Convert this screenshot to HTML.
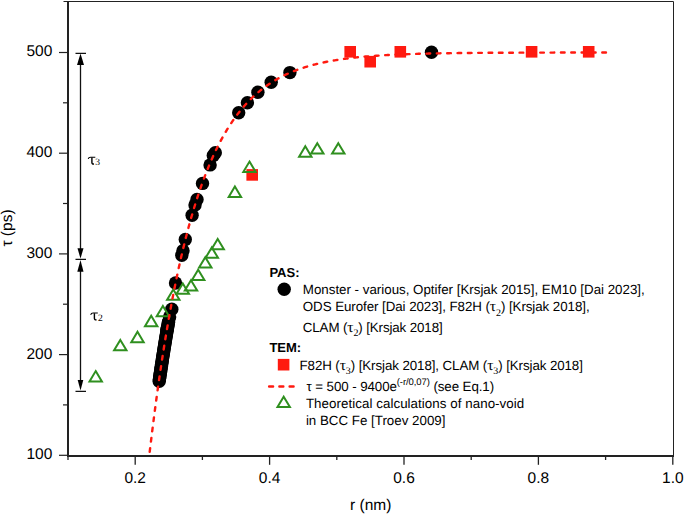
<!DOCTYPE html>
<html><head><meta charset="utf-8"><style>
html,body{margin:0;padding:0;background:#fff;width:685px;height:515px;overflow:hidden}
svg{display:block} text{text-rendering:geometricPrecision}
</style></head><body>
<svg width="685" height="515" viewBox="0 0 685 515">
<rect width="685" height="515" fill="#fff"/>
<g stroke="#222" fill="none">
<path d="M63.5,1.5 H673.5 V456" stroke-width="1"/>
<path d="M68,1 V456" stroke-width="2"/>
<path d="M67,456 H674" stroke-width="2"/>
<path d="M59,455.3 H68" stroke-width="1.2"/>
<path d="M63,404.9 H68" stroke-width="1.2"/>
<path d="M59,354.6 H68" stroke-width="1.2"/>
<path d="M63,304.2 H68" stroke-width="1.2"/>
<path d="M59,253.9 H68" stroke-width="1.2"/>
<path d="M63,203.5 H68" stroke-width="1.2"/>
<path d="M59,153.2 H68" stroke-width="1.2"/>
<path d="M63,102.8 H68" stroke-width="1.2"/>
<path d="M59,52.5 H68" stroke-width="1.2"/>
<path d="M68.0,456 V460" stroke-width="1.3"/>
<path d="M135.2,456 V464.8" stroke-width="1.3"/>
<path d="M202.4,456 V460" stroke-width="1.3"/>
<path d="M269.6,456 V464.8" stroke-width="1.3"/>
<path d="M336.8,456 V460" stroke-width="1.3"/>
<path d="M404.0,456 V464.8" stroke-width="1.3"/>
<path d="M471.2,456 V460" stroke-width="1.3"/>
<path d="M538.4,456 V464.8" stroke-width="1.3"/>
<path d="M605.6,456 V460" stroke-width="1.3"/>
<path d="M672.8,456 V464.8" stroke-width="1.3"/>
</g>
<g font-family="Liberation Sans, sans-serif" font-size="15.5" fill="#000">
<text x="52.3" y="459.2" text-anchor="end">100</text>
<text x="52.3" y="358.5" text-anchor="end">200</text>
<text x="52.3" y="257.8" text-anchor="end">300</text>
<text x="52.3" y="157.1" text-anchor="end">400</text>
<text x="52.3" y="56.4" text-anchor="end">500</text>
<text x="135.2" y="482.8" text-anchor="middle">0.2</text>
<text x="269.6" y="482.8" text-anchor="middle">0.4</text>
<text x="404.0" y="482.8" text-anchor="middle">0.6</text>
<text x="538.4" y="482.8" text-anchor="middle">0.8</text>
<text x="672.8" y="482.8" text-anchor="middle">1.0</text>
<text x="370.7" y="509.6" text-anchor="middle">r (nm)</text>
<text transform="translate(12.4,228) rotate(-90)" text-anchor="middle">τ (ps)</text>
</g>
<g stroke="#111" fill="none" stroke-width="1.3">
<path d="M75.5,53.3 H86 M75.5,259.3 H86 M75.5,391.3 H86"/>
<path d="M80.5,60 V252 M80.5,266 V385"/>
</g>
<g fill="#000">
<path d="M80.5,53.5 L84,65 L77,65 Z"/>
<path d="M80.5,258.6 L83.5,248.3 L77.5,248.3 Z"/>
<path d="M80.5,260 L83.5,271.7 L77.3,271.7 Z"/>
<path d="M80.5,390.6 L83.3,380 L77.7,380 Z"/>
</g>
<g transform="translate(0,0)" fill="none" stroke="#000"><path d="M88.2,159 Q88.6,157.2 90.6,157.2 H95.3" stroke-width="1.1"/><path d="M91.9,157.4 V162.6 Q92.1,164.4 94,164" stroke-width="1.4"/></g>
<g transform="translate(2.5,155.8)" fill="none" stroke="#000"><path d="M88.2,159 Q88.6,157.2 90.6,157.2 H95.3" stroke-width="1.1"/><path d="M91.9,157.4 V162.6 Q92.1,164.4 94,164" stroke-width="1.4"/></g>
<g font-family="Liberation Serif, serif" fill="#000">
<text x="95.3" y="164.6" font-size="9.6">3</text>
<text x="97.9" y="320.5" font-size="9.6">2</text>
</g>
<g fill="#000">
<circle cx="431.5" cy="52.2" r="6.7"/>
<circle cx="289.9" cy="72.6" r="6.7"/>
<circle cx="271.2" cy="82.2" r="6.7"/>
<circle cx="257.9" cy="92.3" r="6.7"/>
<circle cx="247.4" cy="102.8" r="6.7"/>
<circle cx="238.7" cy="112.8" r="6.7"/>
<circle cx="215.3" cy="152.7" r="6.7"/>
<circle cx="213.3" cy="155.4" r="6.7"/>
<circle cx="210.1" cy="164.9" r="6.7"/>
<circle cx="202.5" cy="183.4" r="6.7"/>
<circle cx="197.0" cy="199.5" r="6.7"/>
<circle cx="195.0" cy="205.0" r="6.7"/>
<circle cx="192.1" cy="215.2" r="6.7"/>
<circle cx="185.3" cy="239.5" r="6.7"/>
<circle cx="183.0" cy="250.7" r="6.7"/>
<circle cx="181.8" cy="255.3" r="6.7"/>
<circle cx="175.5" cy="283.0" r="6.7"/>
<circle cx="171.8" cy="309.3" r="6.7"/>
<circle cx="169.6" cy="317.0" r="6.7"/>
<circle cx="168.6" cy="321.8" r="6.7"/>
<circle cx="167.0" cy="329.3" r="6.7"/>
<circle cx="168.4" cy="322.4" r="6.7"/>
<circle cx="168.2" cy="323.9" r="6.7"/>
<circle cx="167.9" cy="325.4" r="6.7"/>
<circle cx="167.7" cy="326.9" r="6.7"/>
<circle cx="167.4" cy="328.4" r="6.7"/>
<circle cx="167.1" cy="329.9" r="6.7"/>
<circle cx="166.9" cy="331.4" r="6.7"/>
<circle cx="166.6" cy="332.9" r="6.7"/>
<circle cx="166.4" cy="334.5" r="6.7"/>
<circle cx="166.1" cy="336.0" r="6.7"/>
<circle cx="165.9" cy="337.5" r="6.7"/>
<circle cx="165.6" cy="339.0" r="6.7"/>
<circle cx="165.4" cy="340.5" r="6.7"/>
<circle cx="165.1" cy="342.0" r="6.7"/>
<circle cx="164.9" cy="343.5" r="6.7"/>
<circle cx="164.7" cy="345.0" r="6.7"/>
<circle cx="164.4" cy="346.5" r="6.7"/>
<circle cx="164.2" cy="348.1" r="6.7"/>
<circle cx="163.9" cy="349.6" r="6.7"/>
<circle cx="163.7" cy="351.1" r="6.7"/>
<circle cx="163.5" cy="352.6" r="6.7"/>
<circle cx="163.2" cy="354.1" r="6.7"/>
<circle cx="163.0" cy="355.6" r="6.7"/>
<circle cx="162.7" cy="357.1" r="6.7"/>
<circle cx="162.5" cy="358.6" r="6.7"/>
<circle cx="162.3" cy="360.1" r="6.7"/>
<circle cx="162.1" cy="361.6" r="6.7"/>
<circle cx="161.8" cy="363.2" r="6.7"/>
<circle cx="161.6" cy="364.7" r="6.7"/>
<circle cx="161.4" cy="366.2" r="6.7"/>
<circle cx="161.1" cy="367.7" r="6.7"/>
<circle cx="160.9" cy="369.2" r="6.7"/>
<circle cx="160.7" cy="370.7" r="6.7"/>
<circle cx="160.5" cy="372.2" r="6.7"/>
<circle cx="160.2" cy="373.7" r="6.7"/>
<circle cx="160.0" cy="375.2" r="6.7"/>
<circle cx="159.8" cy="376.8" r="6.7"/>
<circle cx="159.6" cy="378.3" r="6.7"/>
<circle cx="159.4" cy="379.8" r="6.7"/>
<circle cx="159.2" cy="381.3" r="6.7"/>
</g>
<g fill="#ff1a10">
<rect x="344.4" y="46.0" width="11.6" height="11.6"/>
<rect x="364.4" y="55.9" width="11.6" height="11.6"/>
<rect x="394.5" y="46.0" width="11.6" height="11.6"/>
<rect x="525.8" y="46.0" width="11.6" height="11.6"/>
<rect x="582.9" y="46.0" width="11.6" height="11.6"/>
<rect x="246.4" y="169.1" width="11.6" height="11.6"/>
</g>
<g fill="none" stroke="#2f8f1f" stroke-width="2">
<path d="M95.7,371.1 L101.9,381.5 L89.5,381.5 Z"/>
<path d="M120.3,339.9 L126.5,350.3 L114.1,350.3 Z"/>
<path d="M137.5,331.8 L143.7,342.2 L131.3,342.2 Z"/>
<path d="M151.2,315.8 L157.4,326.2 L145.0,326.2 Z"/>
<path d="M162.9,305.9 L169.1,316.3 L156.7,316.3 Z"/>
<path d="M173.3,289.4 L179.5,299.8 L167.1,299.8 Z"/>
<path d="M182.8,283.4 L189.0,293.8 L176.6,293.8 Z"/>
<path d="M191.0,280.2 L197.2,290.6 L184.8,290.6 Z"/>
<path d="M198.2,269.7 L204.4,280.1 L192.0,280.1 Z"/>
<path d="M205.3,257.2 L211.5,267.6 L199.1,267.6 Z"/>
<path d="M211.8,247.4 L218.0,257.8 L205.6,257.8 Z"/>
<path d="M217.7,238.9 L223.9,249.3 L211.5,249.3 Z"/>
<path d="M234.9,186.5 L241.1,196.9 L228.7,196.9 Z"/>
<path d="M249.5,161.6 L255.7,172.0 L243.3,172.0 Z"/>
<path d="M305.3,146.3 L311.5,156.7 L299.1,156.7 Z"/>
<path d="M317.3,143.2 L323.5,153.6 L311.1,153.6 Z"/>
<path d="M338.3,143.2 L344.5,153.6 L332.1,153.6 Z"/>
</g>
<path d="M149.56,453.08 L150.71,443.46 L151.85,434.08 L153.00,424.91 L154.14,415.97 L155.28,407.24 L156.43,398.72 L157.57,390.41 L158.71,382.29 L159.86,374.37 L161.00,366.64 L162.14,359.10 L163.29,351.73 L164.43,344.55 L165.57,337.54 L166.72,330.69 L167.86,324.01 L169.00,317.49 L170.15,311.13 L171.29,304.91 L172.43,298.85 L173.58,292.94 L174.72,287.16 L175.86,281.53 L177.01,276.03 L178.15,270.66 L179.29,265.42 L180.44,260.31 L181.58,255.32 L182.72,250.45 L183.87,245.69 L185.01,241.05 L186.16,236.52 L187.30,232.11 L188.44,227.79 L189.59,223.58 L190.73,219.47 L191.87,215.46 L193.02,211.55 L194.16,207.73 L195.30,204.00 L196.45,200.36 L197.59,196.81 L198.73,193.35 L199.88,189.97 L201.02,186.66 L202.16,183.44 L203.31,180.30 L204.45,177.23 L205.59,174.23 L206.74,171.31 L207.88,168.46 L209.02,165.67 L210.17,162.95 L211.31,160.30 L212.45,157.71 L213.60,155.19 L214.74,152.72 L215.88,150.31 L217.03,147.96 L218.17,145.67 L219.32,143.43 L220.46,141.25 L221.60,139.12 L222.75,137.04 L223.89,135.01 L225.03,133.03 L226.18,131.09 L227.32,129.21 L228.46,127.36 L229.61,125.57 L230.75,123.81 L231.89,122.10 L233.04,120.43 L234.18,118.80 L235.32,117.20 L236.47,115.65 L237.61,114.13 L238.75,112.65 L239.90,111.21 L241.04,109.80 L242.18,108.42 L243.33,107.08 L244.47,105.77 L245.61,104.49 L246.76,103.24 L247.90,102.02 L249.04,100.83 L250.19,99.67 L251.33,98.54 L252.48,97.43 L253.62,96.36 L254.76,95.30 L255.91,94.27 L257.05,93.27 L258.19,92.29 L259.34,91.34 L260.48,90.40 L261.62,89.49 L262.77,88.61 L263.91,87.74 L265.05,86.89 L266.20,86.07 L267.34,85.26 L268.48,84.47 L269.63,83.71 L270.77,82.96 L271.91,82.22 L273.06,81.51 L274.20,80.81 L275.34,80.13 L276.49,79.47 L277.63,78.82 L278.77,78.19 L279.92,77.57 L281.06,76.97 L282.20,76.38 L283.35,75.81 L284.49,75.25 L285.64,74.70 L286.78,74.17 L287.92,73.65 L289.07,73.14 L290.21,72.65 L291.35,72.16 L292.50,71.69 L293.64,71.23 L294.78,70.78 L295.93,70.34 L297.07,69.91 L298.21,69.49 L299.36,69.09 L300.50,68.69 L301.64,68.30 L302.79,67.92 L303.93,67.55 L305.07,67.19 L306.22,66.84 L307.36,66.49 L308.50,66.16 L309.65,65.83 L310.79,65.51 L311.93,65.19 L313.08,64.89 L314.22,64.59 L315.36,64.30 L316.51,64.02 L317.65,63.74 L318.80,63.47 L319.94,63.21 L321.08,62.95 L322.23,62.70 L323.37,62.46 L324.51,62.22 L325.66,61.98 L326.80,61.76 L327.94,61.53 L329.09,61.32 L330.23,61.10 L331.37,60.90 L332.52,60.70 L333.66,60.50 L334.80,60.31 L335.95,60.12 L337.09,59.94 L338.23,59.76 L339.38,59.58 L340.52,59.41 L341.66,59.25 L342.81,59.09 L343.95,58.93 L345.09,58.77 L346.24,58.62 L347.38,58.48 L348.52,58.33 L349.67,58.19 L350.81,58.06 L351.96,57.92 L353.10,57.79 L354.24,57.66 L355.39,57.54 L356.53,57.42 L357.67,57.30 L358.82,57.19 L359.96,57.07 L361.10,56.96 L362.25,56.86 L363.39,56.75 L364.53,56.65 L365.68,56.55 L366.82,56.45 L367.96,56.36 L369.11,56.27 L370.25,56.17 L371.39,56.09 L372.54,56.00 L373.68,55.92 L374.82,55.83 L375.97,55.75 L377.11,55.68 L378.25,55.60 L379.40,55.53 L380.54,55.45 L381.68,55.38 L382.83,55.31 L383.97,55.25 L385.12,55.18 L386.26,55.11 L387.40,55.05 L388.55,54.99 L389.69,54.93 L390.83,54.87 L391.98,54.82 L393.12,54.76 L394.26,54.71 L395.41,54.65 L396.55,54.60 L397.69,54.55 L398.84,54.50 L399.98,54.45 L401.12,54.41 L402.27,54.36 L403.41,54.32 L404.55,54.27 L405.70,54.23 L406.84,54.19 L407.98,54.15 L409.13,54.11 L410.27,54.07 L411.41,54.03 L412.56,53.99 L413.70,53.96 L414.84,53.92 L415.99,53.89 L417.13,53.86 L418.28,53.82 L419.42,53.79 L420.56,53.76 L421.71,53.73 L422.85,53.70 L423.99,53.67 L425.14,53.64 L426.28,53.62 L427.42,53.59 L428.57,53.56 L429.71,53.54 L430.85,53.51 L432.00,53.49 L433.14,53.47 L434.28,53.44 L435.43,53.42 L436.57,53.40 L437.71,53.38 L438.86,53.35 L440.00,53.33 L441.14,53.31 L442.29,53.29 L443.43,53.28 L444.57,53.26 L445.72,53.24 L446.86,53.22 L448.00,53.20 L449.15,53.19 L450.29,53.17 L451.44,53.15 L452.58,53.14 L453.72,53.12 L454.87,53.11 L456.01,53.09 L457.15,53.08 L458.30,53.07 L459.44,53.05 L460.58,53.04 L461.73,53.03 L462.87,53.01 L464.01,53.00 L465.16,52.99 L466.30,52.98 L467.44,52.97 L468.59,52.95 L469.73,52.94 L470.87,52.93 L472.02,52.92 L473.16,52.91 L474.30,52.90 L475.45,52.89 L476.59,52.88 L477.73,52.87 L478.88,52.87 L480.02,52.86 L481.16,52.85 L482.31,52.84 L483.45,52.83 L484.60,52.82 L485.74,52.82 L486.88,52.81 L488.03,52.80 L489.17,52.79 L490.31,52.79 L491.46,52.78 L492.60,52.77 L493.74,52.77 L494.89,52.76 L496.03,52.75 L497.17,52.75 L498.32,52.74 L499.46,52.74 L500.60,52.73 L501.75,52.72 L502.89,52.72 L504.03,52.71 L505.18,52.71 L506.32,52.70 L507.46,52.70 L508.61,52.69 L509.75,52.69 L510.89,52.68 L512.04,52.68 L513.18,52.68 L514.32,52.67 L515.47,52.67 L516.61,52.66 L517.76,52.66 L518.90,52.66 L520.04,52.65 L521.19,52.65 L522.33,52.64 L523.47,52.64 L524.62,52.64 L525.76,52.63 L526.90,52.63 L528.05,52.63 L529.19,52.63 L530.33,52.62 L531.48,52.62 L532.62,52.62 L533.76,52.61 L534.91,52.61 L536.05,52.61 L537.19,52.61 L538.34,52.60 L539.48,52.60 L540.62,52.60 L541.77,52.60 L542.91,52.59 L544.05,52.59 L545.20,52.59 L546.34,52.59 L547.48,52.58 L548.63,52.58 L549.77,52.58 L550.92,52.58 L552.06,52.58 L553.20,52.58 L554.35,52.57 L555.49,52.57 L556.63,52.57 L557.78,52.57 L558.92,52.57 L560.06,52.56 L561.21,52.56 L562.35,52.56 L563.49,52.56 L564.64,52.56 L565.78,52.56 L566.92,52.56 L568.07,52.55 L569.21,52.55 L570.35,52.55 L571.50,52.55 L572.64,52.55 L573.78,52.55 L574.93,52.55 L576.07,52.55 L577.21,52.55 L578.36,52.54 L579.50,52.54 L580.64,52.54 L581.79,52.54 L582.93,52.54 L584.08,52.54 L585.22,52.54 L586.36,52.54 L587.51,52.54 L588.65,52.54 L589.79,52.53 L590.94,52.53 L592.08,52.53 L593.22,52.53 L594.37,52.53 L595.51,52.53 L596.65,52.53 L597.80,52.53 L598.94,52.53 L600.08,52.53 L601.23,52.53 L602.37,52.53 L603.51,52.53 L604.66,52.53 L605.80,52.52 L606.94,52.52" fill="none" stroke="#ff1a10" stroke-width="2.4" stroke-linecap="round" stroke-dasharray="3.7 6.64" stroke-dashoffset="-1.2"/>
<g font-family="Liberation Sans, sans-serif" font-size="13.33" fill="#000">
<text x="269.4" y="277.2" font-weight="bold" font-size="13">PAS:</text>
<text x="269.4" y="351.9" font-weight="bold" font-size="13">TEM:</text>
<text x="302.8" y="293.9" textLength="341.95" lengthAdjust="spacing">Monster - various, Optifer [Krsjak 2015], EM10 [Dai 2023],</text>
<text x="302.8" y="311.2" textLength="286.80" lengthAdjust="spacing">ODS Eurofer [Dai 2023], F82H (<tspan font-family="Liberation Serif, serif" font-size="15.5">τ</tspan><tspan font-family="Liberation Serif, serif" font-size="10" dy="4.5">2</tspan><tspan dy="-4.5">)</tspan><tspan> [Krsjak 2018],</tspan></text>
<text x="302.8" y="331.6" textLength="139.86" lengthAdjust="spacing">CLAM (<tspan font-family="Liberation Serif, serif" font-size="15.5">τ</tspan><tspan font-family="Liberation Serif, serif" font-size="10" dy="4.5">2</tspan><tspan dy="-4.5">)</tspan><tspan> [Krsjak 2018]</tspan></text>
<text x="299.5" y="369.8" textLength="283.40" lengthAdjust="spacing">F82H (<tspan font-family="Liberation Serif, serif" font-size="15.5">τ</tspan><tspan font-family="Liberation Serif, serif" font-size="10" dy="4.5">3</tspan><tspan dy="-4.5">)</tspan><tspan> [Krsjak 2018], CLAM </tspan>(<tspan font-family="Liberation Serif, serif" font-size="15.5">τ</tspan><tspan font-family="Liberation Serif, serif" font-size="10" dy="4.5">3</tspan><tspan dy="-4.5">)</tspan><tspan> [Krsjak 2018]</tspan></text>
<text x="306.5" y="390.8" textLength="187.61" lengthAdjust="spacing">τ = 500 - 9400e<tspan font-size="9.5" dy="-5.5">(-r/0,07)</tspan><tspan dy="5.5"> (see Eq.1)</tspan></text>
<text x="305.9" y="408.1" textLength="218.34" lengthAdjust="spacing">Theoretical calculations of nano-void</text>
<text x="305.9" y="424.5" textLength="139.52" lengthAdjust="spacing">in BCC Fe [Troev 2009]</text>
</g>
<circle cx="284.2" cy="289.2" r="6.7" fill="#000"/>
<rect x="277.8" y="358.9" width="11.6" height="11.6" fill="#ff1a10"/>
<path d="M267.9,386.5 H296" stroke="#ff1a10" stroke-width="2.4" stroke-linecap="round" stroke-dasharray="4 6.25" stroke-dashoffset="-1.2"/>
<g fill="none" stroke="#2f8f1f" stroke-width="2"><path d="M283.7,396.7 L289.9,407.1 L277.5,407.1 Z"/></g>
</svg>
</body></html>
